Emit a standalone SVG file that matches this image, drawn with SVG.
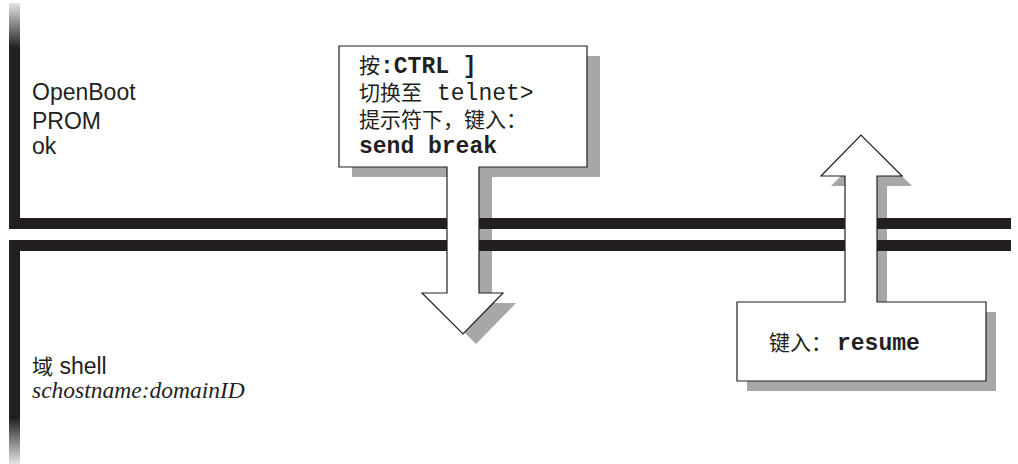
<svg xmlns="http://www.w3.org/2000/svg" width="1018" height="464" viewBox="0 0 1018 464">
  <defs>
    <linearGradient id="gTop" gradientUnits="userSpaceOnUse" x1="0" y1="3" x2="0" y2="48">
      <stop offset="0" stop-color="#e4e4e4"/>
      <stop offset="1" stop-color="#231f20"/>
    </linearGradient>
    <linearGradient id="gBot" gradientUnits="userSpaceOnUse" x1="0" y1="418" x2="0" y2="464">
      <stop offset="0" stop-color="#231f20"/>
      <stop offset="1" stop-color="#e4e4e4"/>
    </linearGradient>
    <style>
      .bar { fill: #231f20; }
      .shadow { fill: #a7a7a7; }
      .shape { fill: #ffffff; stroke: #231f20; stroke-width: 1.2; stroke-linejoin: miter; }
      .sans { font-family: "Liberation Sans", Arial, sans-serif; font-size: 23px; fill: #231f20; }
      .cjk { font-family: "Noto Sans CJK SC", "Liberation Sans", sans-serif; font-size: 21px; fill: #231f20; }
      .mono { font-family: "Liberation Mono", "Courier New", monospace; font-size: 23px; fill: #231f20; }
      .monob { font-family: "Liberation Mono", "Courier New", monospace; font-size: 23px; font-weight: bold; fill: #231f20; }
      .serifi { font-family: "Liberation Serif", "Times New Roman", serif; font-size: 23.5px; font-style: italic; fill: #231f20; }
    </style>
  </defs>
  <rect width="1018" height="464" fill="#ffffff"/>

  <g id="shadows">
    <path class="shadow" transform="translate(13,10)" d="M339,46 H587 V167 H479 V293 H503 L463,334 L422,293 H447 V167 H339 Z"/>
    <path class="shadow" transform="translate(10,10)" d="M737,302 H845 V176 H821 L861,135 L902,176 H877 V302 H986 V381 H737 Z"/>
  </g>

  <g id="connectors">
    <rect x="9" y="3" width="11" height="226" style="fill:url(#gTop)"/>
    <rect class="bar" x="9" y="218" width="1002" height="11"/>
    <rect class="bar" x="9" y="240" width="1002" height="11"/>
    <rect x="9" y="240" width="11" height="224" style="fill:url(#gBot)"/>
  </g>

  <g id="label-openboot">
    <text class="sans" x="32" y="100">OpenBoot</text>
    <text class="sans" x="32" y="129">PROM</text>
    <text class="sans" x="32" y="154">ok</text>
  </g>

  <g id="label-domain">
    <text x="32" y="374"><tspan class="cjk" font-size="19">域</tspan><tspan class="sans"> shell</tspan></text>
    <text class="serifi" x="32" y="398">schostname:domainID</text>
  </g>

  <g id="callout-break">
    <path class="shape" d="M339,46 H587 V167 H479 V293 H503 L463,334 L422,293 H447 V167 H339 Z"/>
    <text x="359" y="73"><tspan class="cjk">按</tspan><tspan class="monob">:CTRL ]</tspan></text>
    <text x="359" y="100"><tspan class="cjk">切换至</tspan><tspan class="mono" x="437">telnet&gt;</tspan></text>
    <text class="cjk" x="359" y="127">提示符下，键入：</text>
    <text class="monob" x="359" y="153">send break</text>
  </g>

  <g id="callout-resume">
    <path class="shape" d="M737,302 H845 V176 H821 L861,135 L902,176 H877 V302 H986 V381 H737 Z"/>
    <text x="769" y="350"><tspan class="cjk">键入：</tspan><tspan class="monob" x="837">resume</tspan></text>
  </g>
</svg>
